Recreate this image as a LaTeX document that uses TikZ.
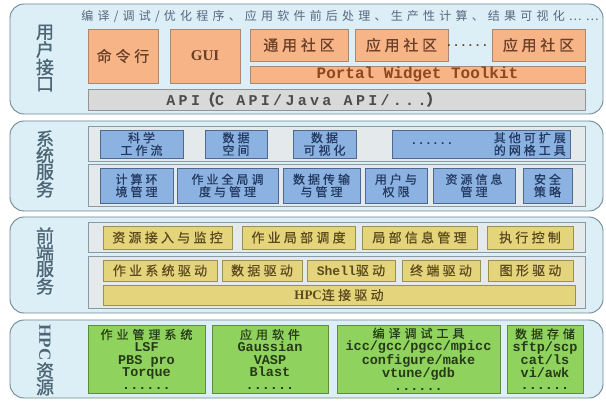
\documentclass[tikz,border=0pt]{standalone}
\usepackage{fontspec}
\setmainfont{Noto Sans CJK SC}
\newfontfamily\cjkO{Noto Sans CJK SC}[LetterSpace=25,FakeBold=0.6]
\newfontfamily\cjkA{Noto Sans CJK SC}[LetterSpace=25,FakeBold=0.6]
\newfontfamily\cjkB{Noto Sans CJK SC}[LetterSpace=33,FakeBold=0.6]
\newfontfamily\cjkw{Noto Sans CJK SC}[LetterSpace=35]
\newfontfamily\cjkL{Noto Sans CJK SC}[FakeBold=1.2]
\newfontfamily\mono{Liberation Mono}
\newfontfamily\monoS{Liberation Mono}[LetterSpace=22]
\newfontfamily\serifL{Liberation Serif}
\definecolor{layerfill}{HTML}{DCEEF6}
\definecolor{layerdraw}{HTML}{6E8894}
\definecolor{framefill}{HTML}{E4E9EC}
\definecolor{framedraw}{HTML}{8A9AA2}
\definecolor{ofill}{HTML}{F6B487}
\definecolor{odraw}{HTML}{A88870}
\definecolor{otext}{HTML}{6A4028}
\definecolor{ptext}{HTML}{8A4A1E}
\definecolor{gfill}{HTML}{D9D9D9}
\definecolor{gdraw}{HTML}{8E9498}
\definecolor{bfill}{HTML}{8CB2E2}
\definecolor{bdraw}{HTML}{4E6890}
\definecolor{btext}{HTML}{22385E}
\definecolor{yfill}{HTML}{E4D47C}
\definecolor{ydraw}{HTML}{9A9050}
\definecolor{ytext}{HTML}{5A4A1E}
\definecolor{grfill}{HTML}{8FD35E}
\definecolor{grdraw}{HTML}{5E8C3C}
\definecolor{grtext}{HTML}{263A18}
\definecolor{lbltext}{HTML}{4C6676}
\definecolor{toptext}{HTML}{56687E}
\newcommand\bxx[7]{\node[#1, inner sep=0pt, outer sep=0pt, minimum width={(#5-#3)*1pt}, minimum height={(#6-#4)*1pt}] (#2) at ({(#3+#5)/2},{(#4+#6)/2}) {#7};}
\tikzset{
  layer/.style={draw=layerdraw, fill=layerfill, rounded corners=14pt, line width=0.9pt},
  rowframe/.style={draw=framedraw, fill=framefill, line width=0.7pt},
  obox/.style={draw=odraw, fill=ofill, line width=0.8pt, text=otext, font=\cjkO\fontsize{15}{15}\selectfont},
  gbar/.style={draw=gdraw, fill=gfill, line width=0.8pt},
  bbox/.style={draw=bdraw, fill=bfill, line width=0.8pt, text=btext, align=center, font=\cjkA\fontsize{12}{12.5}\selectfont},
  ybox/.style={draw=ydraw, fill=yfill, line width=0.8pt, text=ytext, font=\cjkA\fontsize{13}{13}\selectfont},
  grbox/.style={draw=grdraw, fill=grfill, line width=0.8pt, text=grtext, align=center, font=\cjkB\fontsize{12}{12.5}\selectfont},
  lbl/.style={inner sep=0pt, align=center, text=lbltext, font=\cjkL\fontsize{18}{16.5}\selectfont},
  plain/.style={inner sep=0pt}
}
\newcommand\ml[1]{{\mono\bfseries\fontsize{13.5}{12.5}\selectfont #1}}
\begin{document}
\begin{tikzpicture}[x=1pt,y=-1pt]
\useasboundingbox (0,0) rectangle (606,401);
\fill[white] (0,0) rectangle (606,401);
% layers
\bxx{layer}{L1}{10}{4}{603}{114}{}
\bxx{layer}{L2}{10}{121}{603}{211}{}
\bxx{layer}{L3}{10}{217}{603}{313}{}
\bxx{layer}{L4}{10}{320}{603}{398}{}
% labels
\node[lbl] (lab1) at (45,58) {用\\户\\接\\口};
\node[lbl] (lab2) at (45,164) {系\\统\\服\\务};
\node[lbl] (lab3) at (45,261) {前\\端\\服\\务};
\node[lbl] (lab4) at (45,360) {{\serifL\bfseries\fontsize{17}{17}\selectfont\rotatebox{-90}{HPC}}\\[1pt]资\\源};
% layer 1
\node[plain, text=toptext, font=\cjkw\fontsize{12}{12}\selectfont] (top) at (340,16) {编译/调试/优化程序、应用软件前后处理、生产性计算、结果可视化……};
\bxx{obox}{cmd}{88}{29}{158}{83}{命令行}
\bxx{obox}{gui}{170}{29}{240}{83}{\serifL\bfseries GUI}
\bxx{obox}{c1}{250}{29}{348}{61}{通用社区}
\bxx{obox}{c2}{355}{29}{448}{61}{应用社区}
\node[plain, text=otext, font=\mono\bfseries\fontsize{12}{12}\selectfont] (cdots) at (467,46) {......};
\bxx{obox}{c3}{492}{29}{585}{61}{应用社区}
\bxx{obox}{pwt}{250}{66}{585}{83}{\mono\bfseries\fontsize{16}{16}\selectfont\color{ptext}Portal Widget Toolkit}
\bxx{gbar}{api}{88}{89}{585}{110}{}
\node[plain, text=black!70, font=\monoS\bfseries\fontsize{15}{15}\selectfont] (apit) at (304,99.5) {API{\cjkA（}C API/Java API/...{\cjkA）}};
% layer 2
\bxx{rowframe}{f21}{88}{126}{585}{161}{}
\bxx{bbox}{s1}{100}{130}{183}{158}{科学\\工作流}
\bxx{bbox}{s2}{205}{130}{267}{158}{数据\\空间}
\bxx{bbox}{s3}{293}{130}{356}{158}{数据\\可视化}
\bxx{bbox}{s4}{392}{130}{570}{158}{}
\node[plain, text=btext, font=\mono\bfseries\fontsize{12}{12}\selectfont] (s4d) at (432,144) {......};
\node[plain, anchor=east, align=right, text=btext, font=\cjkA\fontsize{12}{12.5}\selectfont] (s4t) at (566,144) {其他可扩展\\的网格工具};
\bxx{rowframe}{f22}{88}{164}{585}{206}{}
\bxx{bbox}{t1}{100}{168}{173}{203}{计算环\\境管理}
\bxx{bbox}{t2}{177}{168}{278}{203}{作业全局调\\度与管理}
\bxx{bbox}{t3}{283}{168}{360}{203}{数据传输\\与管理}
\bxx{bbox}{t4}{365}{168}{427}{203}{用户与\\权限}
\bxx{bbox}{t5}{433}{168}{515}{203}{资源信息\\管理}
\bxx{bbox}{t6}{523}{168}{572}{203}{安全\\策略}
% layer 3
\bxx{rowframe}{f31}{88}{222}{585}{252}{}
\bxx{ybox}{u1}{103}{226}{232}{249}{资源接入与监控}
\bxx{ybox}{u2}{242}{226}{355}{249}{作业局部调度}
\bxx{ybox}{u3}{362}{226}{477}{249}{局部信息管理}
\bxx{ybox}{u4}{487}{226}{573}{249}{执行控制}
\bxx{rowframe}{f32}{88}{256}{585}{308}{}
\bxx{ybox}{v1}{103}{260}{217}{281}{作业系统驱动}
\bxx{ybox}{v2}{222}{260}{302}{281}{数据驱动}
\bxx{ybox}{v3}{307}{260}{395}{281}{{\mono\bfseries Shell}驱动}
\bxx{ybox}{v4}{402}{260}{480}{281}{终端驱动}
\bxx{ybox}{v5}{488}{260}{573}{281}{图形驱动}
\bxx{ybox}{hpc}{103}{285}{575}{305}{{\serifL\bfseries HPC}连接驱动}
% layer 4
\bxx{grbox}{w1}{88}{325}{205}{393}{作业管理系统\\\ml{LSF}\\\ml{PBS pro}\\\ml{Torque}\\\ml{......}}
\bxx{grbox}{w2}{212}{325}{328}{393}{应用软件\\\ml{Gaussian}\\\ml{VASP}\\\ml{Blast}\\\ml{......}}
\bxx{grbox}{w3}{337}{325}{500}{393}{编译调试工具\\\ml{icc/gcc/pgcc/mpicc}\\\ml{configure/make}\\\ml{vtune/gdb}\\\ml{......}}
\bxx{grbox}{w4}{507}{325}{583}{393}{数据存储\\\ml{sftp/scp}\\\ml{cat/ls}\\\ml{vi/awk}\\\ml{......}}
\end{tikzpicture}
\end{document}
